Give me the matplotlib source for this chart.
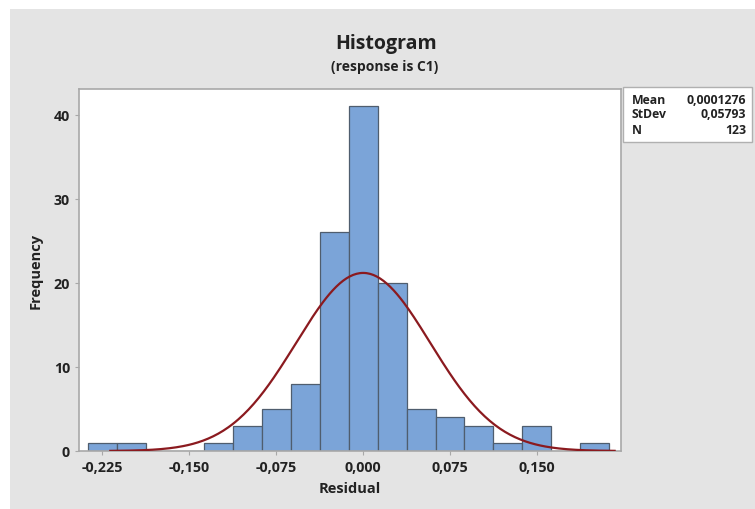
import numpy as np
import matplotlib.pyplot as plt
from matplotlib.patches import Rectangle

# histogram of residuals (bin centres, width 0.025)
bin_centres = [-0.225, -0.200, -0.175, -0.150, -0.125, -0.100, -0.075, -0.050,
               -0.025, 0.000, 0.025, 0.050, 0.075, 0.100, 0.125, 0.150,
               0.175, 0.200]
counts = [1, 1, 0, 0, 1, 3, 5, 8, 26, 41, 20, 5, 4, 3, 1, 3, 0, 1]
bin_width = 0.025

mean = 0.0001276
stdev = 0.05793
n_obs = 123

xticks = [-0.225, -0.150, -0.075, 0.000, 0.075, 0.150]
xtick_labels = ["-0,225", "-0,150", "-0,075", "0,000", "0,075", "0,150"]
yticks = [0, 10, 20, 30, 40]

plt.rcParams['font.family'] = ['Open Sans', 'DejaVu Sans']

fig = plt.figure(figsize=(7.55, 5.10), dpi=100)
fig.patch.set_facecolor('white')
# grey panel behind the chart
fig.patches.append(Rectangle((10/755, 0), 1, 1 - 10/510, transform=fig.transFigure,
                             facecolor='#e4e4e4', edgecolor='none', zorder=-10))

ax = fig.add_axes([79/755, 1 - 452/510, 542/755, 362/510])
ax.set_facecolor('white')

ax.bar(bin_centres, counts, width=bin_width, color='#7ba4d8',
       edgecolor='#4f5d6e', linewidth=0.9, zorder=2)

# fitted normal curve
xs = np.linspace(-0.218, 0.217, 300)
ys = n_obs * bin_width * np.exp(-0.5 * ((xs - mean) / stdev) ** 2) / (stdev * np.sqrt(2 * np.pi))
ax.plot(xs, ys, color='#8b1a1f', linewidth=1.6, zorder=3)

ax.set_xlim(-0.245, 0.2225)
ax.set_ylim(0, 43.05)
ax.set_xticks(xticks)
ax.set_xticklabels(xtick_labels)
ax.set_yticks(yticks)
for s in ax.spines.values():
    s.set_color('#a8a8a8')
    s.set_linewidth(1.2)
ax.tick_params(colors='#a8a8a8', labelcolor='#222222', labelsize=10.3, length=3, width=0.8)
for lbl in ax.get_xticklabels() + ax.get_yticklabels():
    lbl.set_fontweight('bold')

ax.set_xlabel("Residual", fontsize=10.5, fontweight='bold', color='#222222', labelpad=5)
ax.set_ylabel("Frequency", fontsize=10.5, fontweight='bold', color='#222222', labelpad=8)

fig.text(386/755, 1 - 44/510, "Histogram", ha='center', va='center',
         fontsize=14, fontweight='bold', color='#222222')
fig.text(385/755, 1 - 67/510, "(response is C1)", ha='center', va='center',
         fontsize=10, fontweight='bold', color='#222222')

# stats box
fig.patches.append(Rectangle((623/755, 1 - 143/510), 129/755, 55/510, transform=fig.transFigure,
                             facecolor='white', edgecolor='#b0b0b0', linewidth=1.0))
stat_names = ["Mean", "StDev", "N"]
stat_vals = ["0,0001276", "0,05793", "123"]
for i, (nm, v) in enumerate(zip(stat_names, stat_vals)):
    yy = 1 - (100 + 15 * i) / 510
    fig.text(632/755, yy, nm, ha='left', va='center', fontsize=8.8,
             fontweight='bold', color='#222222')
    fig.text(746/755, yy, v, ha='right', va='center', fontsize=8.8,
             fontweight='bold', color='#222222')

fig.savefig("out.png", dpi=100)
